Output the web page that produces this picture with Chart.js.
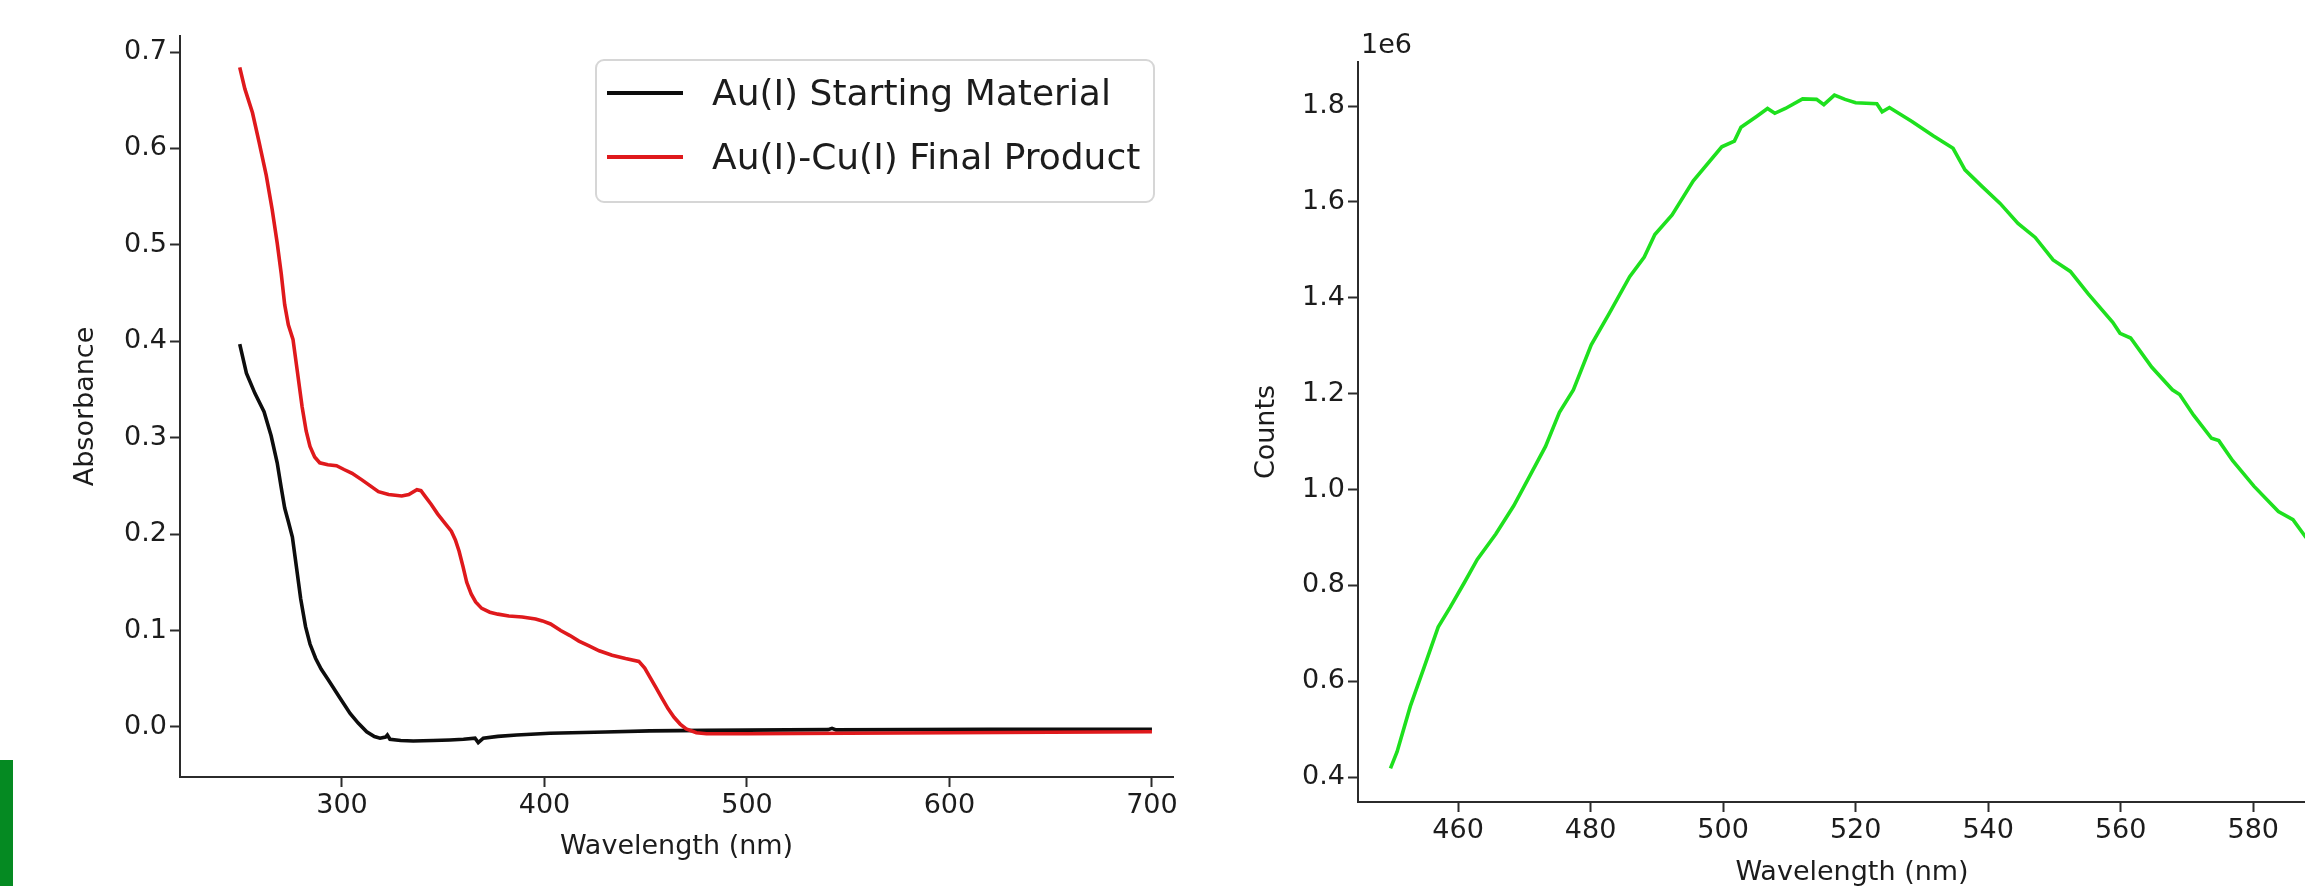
<!DOCTYPE html>
<html>
<head>
<meta charset="utf-8">
<script src="https://cdn.jsdelivr.net/npm/chart.js@4.4.1/dist/chart.umd.min.js"></script>
<style>
  html, body { margin:0; padding:0; background:#fff; overflow:hidden; width:2305px; height:886px; }
  canvas { position:absolute; top:0; }
  #abs { left:0; }
  #pl { left:1200px; }
  .tab { position:absolute; left:0; top:760px; width:13px; height:126px; background:#058a22; }
</style>
</head>
<body>
<canvas id="abs" width="1205" height="886"></canvas>
<canvas id="pl" width="1176" height="900"></canvas>
<div class="tab"></div>
<script>
// UV-vis absorbance
const AU_NM  = [249.5,252.8,257,261.5,265,268,270,271.7,273.5,275.5,277.5,279.6,282,284.2,287,289.7,293.2,299,304,308,312.2,316,318.8,321.5,322.4,323.7,329,335.2,345,353.3,360,365.7,367.3,369.8,377,386.3,402.7,430,452,480,520,540,542,544,580,620,660,700];
const AU_ABS = [0.397,0.367,0.346,0.327,0.302,0.274,0.248,0.227,0.213,0.197,0.166,0.133,0.104,0.086,0.071,0.060,0.049,0.030,0.014,0.004,-0.005,-0.010,-0.0117,-0.0105,-0.0083,-0.0128,-0.014,-0.0145,-0.014,-0.0135,-0.0128,-0.0117,-0.0163,-0.0117,-0.0098,-0.0083,-0.0065,-0.0052,-0.0041,-0.0035,-0.003,-0.0028,-0.0015,-0.003,-0.0028,-0.0025,-0.0025,-0.0025];

const CU_NM  = [249.5,252,255.8,259,262.6,265.5,268,270,271.7,273.5,275.8,278,280.3,282.3,284.2,286.5,289,293,297.3,301,305,310,314,318,323,329.5,333,337,339,340.8,344,347.2,351,354,356,357.8,359.8,361.6,363.8,366,369,373,377,382.4,389,395.6,399,403,408,412.6,417,422,427,433.4,440,446.6,449.5,452,455,458,461,464,467,470,475,480,500,550,600,650,700];
const CU_ABS = [0.684,0.662,0.637,0.607,0.572,0.537,0.502,0.470,0.438,0.417,0.402,0.368,0.332,0.307,0.291,0.280,0.274,0.272,0.271,0.267,0.263,0.256,0.250,0.244,0.241,0.2395,0.241,0.246,0.245,0.240,0.231,0.221,0.211,0.203,0.194,0.1825,0.166,0.150,0.138,0.1297,0.123,0.119,0.117,0.115,0.114,0.112,0.110,0.1068,0.100,0.0948,0.089,0.084,0.079,0.0744,0.071,0.068,0.061,0.052,0.041,0.030,0.019,0.010,0.003,-0.002,-0.006,-0.007,-0.007,-0.0066,-0.006,-0.0055,-0.005];

// emission spectrum (counts)
const PL_NM = [449.8,450.8,452.8,454.9,457,458.8,461,462.9,465.7,468.4,470,473.2,475.3,477.4,480.1,482.8,485.9,488.1,489.7,492.3,495.5,499.8,501.7,502.7,505.1,506.7,507.8,509.4,512,514.1,515.2,516.8,518.4,520,523.2,524,525.1,528.5,531.7,534.7,536.5,539.1,541.8,544.5,547.1,549.8,552.4,555.1,558.8,559.9,561.5,564.7,567.8,568.9,571,573.7,574.8,576.9,580.1,583.8,586,587.9,589.5];
const PL_COUNTS = [0.418,0.453,0.548,0.630,0.713,0.754,0.807,0.854,0.907,0.966,1.007,1.090,1.161,1.208,1.302,1.367,1.444,1.485,1.532,1.573,1.644,1.715,1.727,1.756,1.779,1.795,1.785,1.795,1.815,1.814,1.803,1.823,1.814,1.807,1.805,1.788,1.797,1.768,1.738,1.712,1.667,1.632,1.597,1.555,1.526,1.479,1.455,1.408,1.349,1.326,1.316,1.255,1.208,1.198,1.155,1.107,1.102,1.060,1.007,0.954,0.937,0.901,0.875].map(v => v * 1e6);

const ABS_X_TICKS = [300, 400, 500, 600, 700];
const ABS_Y_TICKS = [0.0, 0.1, 0.2, 0.3, 0.4, 0.5, 0.6, 0.7];
const PL_X_TICKS = [460, 480, 500, 520, 540, 560, 580];
const PL_Y_TICKS = [0.4e6, 0.6e6, 0.8e6, 1.0e6, 1.2e6, 1.4e6, 1.6e6, 1.8e6];

const pts = (xs, ys) => xs.map((x, i) => ({ x, y: ys[i] }));
const FONT = 'DejaVu Sans';
const INK = '#1c1c1c';
const SPINE = '#2b2b2b';

function axis(min, max, tickVals, fmt, extra){
  return Object.assign({
    type: 'linear', min, max,
    afterBuildTicks: s => { s.ticks = tickVals.map(v => ({ value: v })); },
    grid: { drawOnChartArea: false, drawTicks: true, tickLength: 10, tickWidth: 2, tickColor: SPINE },
    border: { display: true, color: SPINE, width: 2 },
    ticks: { color: INK, font: { family: FONT, size: 27 }, callback: fmt, maxRotation: 0, autoSkip: false }
  }, extra);
}

const legendBox = {
  id: 'legendBox',
  afterDraw(chart){
    const ctx = chart.ctx;
    const ds = chart.data.datasets;
    ctx.save();
    ctx.beginPath();
    ctx.roundRect(596, 60, 558, 142, 8);
    ctx.fillStyle = 'rgba(255,255,255,0.85)';
    ctx.fill();
    ctx.lineWidth = 2;
    ctx.strokeStyle = '#d6d6d6';
    ctx.stroke();
    ctx.font = '36px ' + FONT;
    ctx.textBaseline = 'middle';
    ds.forEach((d, i) => {
      const y = 93 + i * 64;
      ctx.beginPath();
      ctx.moveTo(607, y); ctx.lineTo(683, y);
      ctx.lineWidth = 3.8;
      ctx.strokeStyle = d.borderColor;
      ctx.stroke();
      ctx.fillStyle = INK;
      ctx.fillText(d.label, 712, y + 3);
    });
    ctx.restore();
  }
};

new Chart(document.getElementById('abs'), {
  type: 'line',
  data: {
    datasets: [
      { label: 'Au(I) Starting Material', data: pts(AU_NM, AU_ABS), borderColor: '#0d0d0d', borderWidth: 3.6, pointRadius: 0, order: 1 },
      { label: 'Au(I)-Cu(I) Final Product', data: pts(CU_NM, CU_ABS), borderColor: '#df191c', borderWidth: 3.6, pointRadius: 0, order: 0 }
    ]
  },
  options: {
    responsive: false, animation: false,
    layout: { padding: { left: 0, top: 36, right: 32, bottom: 0 } },
    plugins: { legend: { display: false }, tooltip: { enabled: false } },
    scales: {
      x: axis(220, 710.4, ABS_X_TICKS, v => String(v), {
        afterFit: s => { s.height = 109; },
        title: { display: true, text: 'Wavelength (nm)', color: INK, font: { family: FONT, size: 27 }, padding: { top: 0, bottom: 22.8 } }
      }),
      y: axis(-0.0519, 0.7166, ABS_Y_TICKS, v => v.toFixed(1), {
        afterFit: s => { s.width = 180; },
        title: { display: true, text: 'Absorbance', color: INK, font: { family: FONT, size: 27 }, padding: { top: 70, bottom: 0 } }
      })
    }
  },
  plugins: [legendBox]
});

const sciLabel = {
  id: 'sciLabel',
  afterDraw(chart){
    const ctx = chart.ctx;
    ctx.save();
    ctx.font = '27px ' + FONT;
    ctx.fillStyle = INK;
    ctx.textBaseline = 'alphabetic';
    ctx.fillText('1e6', chart.chartArea.left + 3, 53);
    ctx.restore();
  }
};

new Chart(document.getElementById('pl'), {
  type: 'line',
  data: {
    datasets: [
      { label: 'Emission', data: pts(PL_NM, PL_COUNTS), borderColor: '#1ee01e', borderWidth: 3.6, pointRadius: 0 }
    ]
  },
  options: {
    responsive: false, animation: false,
    layout: { padding: { left: 0, top: 62, right: 30, bottom: 0 } },
    plugins: { legend: { display: false }, tooltip: { enabled: false } },
    scales: {
      x: axis(444.9, 594, PL_X_TICKS, v => String(v), {
        afterFit: s => { s.height = 98; },
        title: { display: true, text: 'Wavelength (nm)', color: INK, font: { family: FONT, size: 27 }, padding: { top: 0, bottom: 10.8 } }
      }),
      y: axis(0.348e6, 1.892e6, PL_Y_TICKS, v => (v / 1e6).toFixed(1), {
        afterFit: s => { s.width = 158; },
        title: { display: true, text: 'Counts', color: INK, font: { family: FONT, size: 27 }, padding: { top: 50.8, bottom: 0 } }
      })
    }
  },
  plugins: [sciLabel]
});
</script>
</body>
</html>
